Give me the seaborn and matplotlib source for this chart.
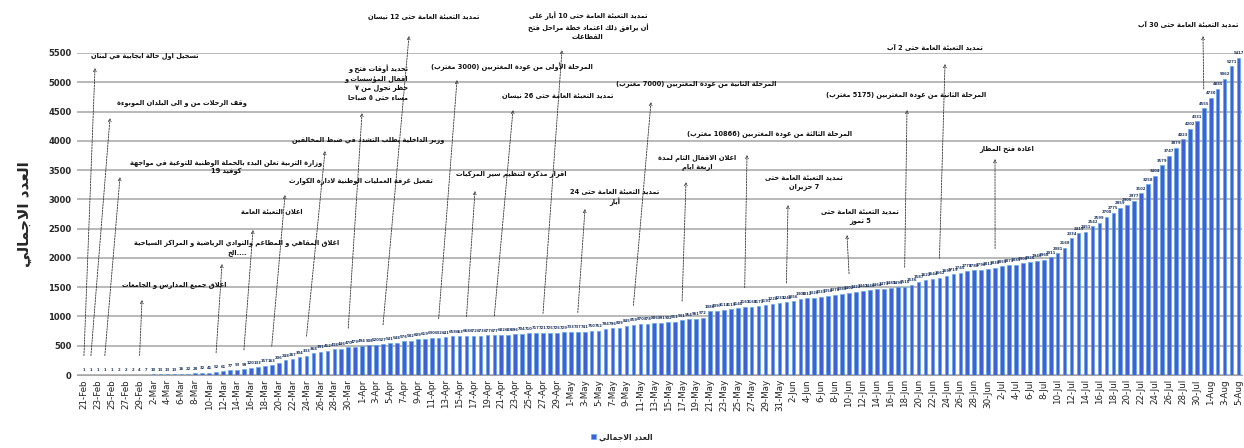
import re
import matplotlib
matplotlib.use("Agg")
import matplotlib.pyplot as plt
import seaborn as sns
import pandas as pd

# ---- data -----------------------------------------------------------------
dates = pd.date_range("2020-02-21", "2020-08-05", freq="D")
day_labels = [f"{d.day}-{d.strftime('%b')}" for d in dates]

totals = [
    1, 1, 1, 1, 1, 2, 2, 2, 4, 7,
    10, 13, 13, 13, 16, 22, 28, 32, 41, 52,
    61, 77, 93, 99, 120, 133, 157, 163, 206, 248,
    267, 304, 333, 368, 391, 412, 438, 446, 470, 479,
    494, 508, 520, 527, 541, 548, 576, 582, 609, 619,
    630, 632, 641, 658, 663, 668, 672, 673, 677, 677,
    682, 688, 696, 704, 710, 717, 721, 725, 725, 729,
    733, 737, 741, 750, 752, 784, 796, 809, 845, 859,
    870, 878, 886, 891, 902, 911, 931, 954, 961, 972,
    1086, 1097, 1114, 1119, 1140, 1161, 1168, 1172, 1191, 1220,
    1233, 1242, 1256, 1306, 1312, 1320, 1331, 1350, 1370, 1388,
    1402, 1422, 1442, 1446, 1464, 1473, 1489, 1495, 1510, 1536,
    1587, 1622, 1644, 1662, 1697, 1719, 1745, 1778, 1788, 1796,
    1812, 1830, 1855, 1873, 1885, 1908, 1926, 1946, 1968, 2011,
    2081, 2168, 2334, 2419, 2451, 2542, 2599, 2700, 2775, 2859,
    2905, 2977, 3102, 3258, 3404, 3579, 3747, 3879, 4023, 4202,
    4331, 4555, 4730, 4885, 5062, 5271, 5417,
]

series_name = "العدد الاجمالي"

# event text, bar it points at
events = [
    ("تسجيل اول حالة ايجابية في لبنان", 0),
    ("وقف الرحلات من و الى البلدان الموبوءة", 1),
    ("وزارة التربية تعلن البدء بالحملة الوطنية للتوعية في مواجهة\nكوفيد 19", 3),
    ("اغلاق جميع المدارس و الجامعات", 8),
    ("اغلاق المقاهي و المطاعم والنوادي الرياضية و المراكز السياحية\n....الخ", 19),
    ("اعلان التعبئة العامة", 23),
    ("تفعيل غرفة العمليات الوطنية لادارة الكوارث", 27),
    ("وزير الداخلية يطلب التشدد في ضبط المخالفين", 32),
    ("تحديد أوقات فتح و\nاقفال المؤسسات و\nحظر تجول من ٧\nمساءً حتى ٥ صباحاً", 38),
    ("تمديد التعبئة العامة حتى 12 نيسان", 43),
    ("المرحلة الأولى من عودة المغتربين (3000 مغترب)", 51),
    ("تمديد التعبئة العامة حتى 26 نيسان", 59),
    ("اقرار مذكرة لتنظيم سير المركبات", 55),
    ("تمديد التعبئة العامة حتى 10 أيار على\nأن يرافق ذلك اعتماد خطة مراحل فتح\nالقطاعات", 66),
    ("تمديد التعبئة العامة حتى 24\nأيار", 71),
    ("المرحلة الثانية من عودة المغتربين (7000 مغترب)", 79),
    ("اعلان الاقفال التام لمدة\nاربعة ايام", 86),
    ("المرحلة الثالثة من عودة المغتربين (10866 مغترب)", 95),
    ("تمديد التعبئة العامة حتى\n7 حزيران", 101),
    ("تمديد التعبئة العامة حتى\n5 تموز", 110),
    ("المرحلة الثانية من عودة المغتربين (5175 مغترب)", 118),
    ("تمديد التعبئة العامة حتى 2 آب", 123),
    ("اعادة فتح المطار", 131),
    ("تمديد التعبئة العامة حتى 30 آب", 161),
]

# layout of the call-outs in figure pixels: text anchor, alignment, arrow head
callout_pos = [
    ((145, 56), "center", (95, 68)),
    ((182, 103), "center", (110, 118)),
    ((226, 167), "center", (120, 177)),
    ((174, 285), "center", (142, 300)),
    ((237, 248), "center", (222, 264)),
    ((272, 211), "center", (253, 230)),
    ((361, 181), "center", (285, 195)),
    ((368, 140), "center", (325, 151)),
    ((408, 82), "right", (362, 113)),
    ((424, 16), "center", (409, 36)),
    ((512, 67), "center", (457, 80)),
    ((558, 95), "center", (513, 110)),
    ((511, 174), "center", (475, 191)),
    ((588, 26), "center", (562, 50)),
    ((615, 197), "center", (585, 209)),
    ((696, 84), "center", (651, 102)),
    ((697, 162), "center", (686, 182)),
    ((770, 134), "center", (747, 155)),
    ((804, 182), "center", (788, 205)),
    ((860, 216), "center", (847, 235)),
    ((906, 95), "center", (907, 110)),
    ((935, 48), "center", (945, 64)),
    ((1007, 149), "center", (995, 159)),
    ((1188, 25), "center", (1203, 36)),
]

# ---- minimal arabic shaping (matplotlib has no text shaping) -----------------
_counts = ([(0x621, 1), (0x622, 2), (0x623, 2), (0x624, 2), (0x625, 2),
            (0x626, 4), (0x627, 2), (0x628, 4), (0x629, 2)]
           + [(c, 4) for c in range(0x62A, 0x62F)]
           + [(c, 2) for c in range(0x62F, 0x633)]
           + [(c, 4) for c in range(0x633, 0x63B)]
           + [(c, 4) for c in range(0x641, 0x648)]
           + [(0x648, 2), (0x649, 2), (0x64A, 4)])
FORMS = {}
_start = 0xFE80
for cp, n in _counts:
    FORMS[chr(cp)] = (n, _start)
    _start += n
LAM_ALEF = {"\u0622": 0xFEF5, "\u0623": 0xFEF7, "\u0625": 0xFEF9, "\u0627": 0xFEFB}
MIRROR = {"(": ")", ")": "("}


def shape(s):
    chars = [c for c in s if not 0x64B <= ord(c) <= 0x652]
    out = []
    i = 0
    joins = lambda c: c in FORMS and FORMS[c][0] == 4
    while i < len(chars):
        c = chars[i]
        if c not in FORMS:
            out.append(c)
            i += 1
            continue
        link_prev = i > 0 and joins(chars[i - 1])
        nxt = chars[i + 1] if i + 1 < len(chars) else ""
        if c == "\u0644" and nxt in LAM_ALEF:
            out.append(chr(LAM_ALEF[nxt] + (1 if link_prev else 0)))
            i += 2
            continue
        link_next = joins(c) and nxt in FORMS
        n, start = FORMS[c]
        if n == 1:
            k = 0
        elif n == 2:
            k = 1 if link_prev else 0
        else:
            k = (3 if link_next else 1) if link_prev else (2 if link_next else 0)
        out.append(chr(start + k))
        i += 1
    return "".join(out)


def visual(s):
    runs = re.findall(r"[0-9\u0660-\u0669A-Za-z]+|[^0-9\u0660-\u0669A-Za-z]+", shape(s))
    parts = []
    for r in reversed(runs):
        if re.match(r"[0-9\u0660-\u0669A-Za-z]", r):
            parts.append(r)
        else:
            parts.append("".join(MIRROR.get(c, c) for c in reversed(r)))
    return "".join(parts)


def ar(s):
    return "\n".join(visual(line) for line in s.split("\n"))


# ---- plot -------------------------------------------------------------------
sns.set_style("white")
plt.rcParams["font.family"] = ["DejaVu Sans"]

W, H = 1244, 448
fig = plt.figure(figsize=(W / 100, H / 100), dpi=100)
ax = fig.add_axes([77 / W, 73 / H, (1242 - 77) / W, (375 - 53) / H])

sns.barplot(x=day_labels, y=totals, color="#3f61d6", width=0.52, ax=ax,
            edgecolor="#52a8e8", linewidth=0.4, saturation=1, label=ar(series_name))

for i, v in enumerate(totals):
    ax.text(i, v + 45, str(v), ha="center", va="bottom", fontsize=2.7,
            color="#1f3864", fontweight="bold")

ax.set_xlim(-1.0, 166.5)
ax.set_ylim(0, 5500)
ax.set_yticks(range(0, 5501, 500))
ax.set_xticks(range(0, len(day_labels), 2))
ax.set_xticklabels(day_labels[::2], rotation=90, fontsize=6.3, color="#222222")
ax.tick_params(axis="y", labelsize=6, length=0, pad=4)
ax.tick_params(axis="x", length=0, pad=3)
for lab in ax.get_yticklabels():
    lab.set_fontweight("bold")
ax.yaxis.grid(True, color="#a6a6a6", linewidth=1.1)
ax.set_axisbelow(True)
for side in ["top", "right", "left"]:
    ax.spines[side].set_visible(False)
ax.spines["bottom"].set_color("#a6a6a6")
ax.set_xlabel("")
ax.set_ylabel(ar(series_name), fontsize=11, fontweight="bold", labelpad=12)

# call-outs
for (text, bar), ((tx, ty), align, (hx, hy)) in zip(events, callout_pos):
    ax.annotate("", xy=(hx, H - hy), xycoords="figure pixels",
                xytext=(bar, totals[bar] + 330), textcoords="data",
                annotation_clip=False,
                arrowprops=dict(arrowstyle="->", linestyle=(0, (2, 1.4)),
                                lw=0.6, color="#333333", shrinkA=0, shrinkB=0,
                                mutation_scale=5))
    fig.text(tx / W, 1 - ty / H, ar(text), ha=align, va="center",
             fontsize=4.8, fontweight="bold", color="#111111",
             multialignment=align, linespacing=1.45)

if ax.legend_:
    ax.legend_.remove()
fig.legend(loc="lower center", bbox_to_anchor=(0.5, 0.0), frameon=False,
           handlelength=0.7, handleheight=0.7, handletextpad=0.4,
           prop={"weight": "bold", "size": 5.5})

fig.savefig("out.png", dpi=100)
